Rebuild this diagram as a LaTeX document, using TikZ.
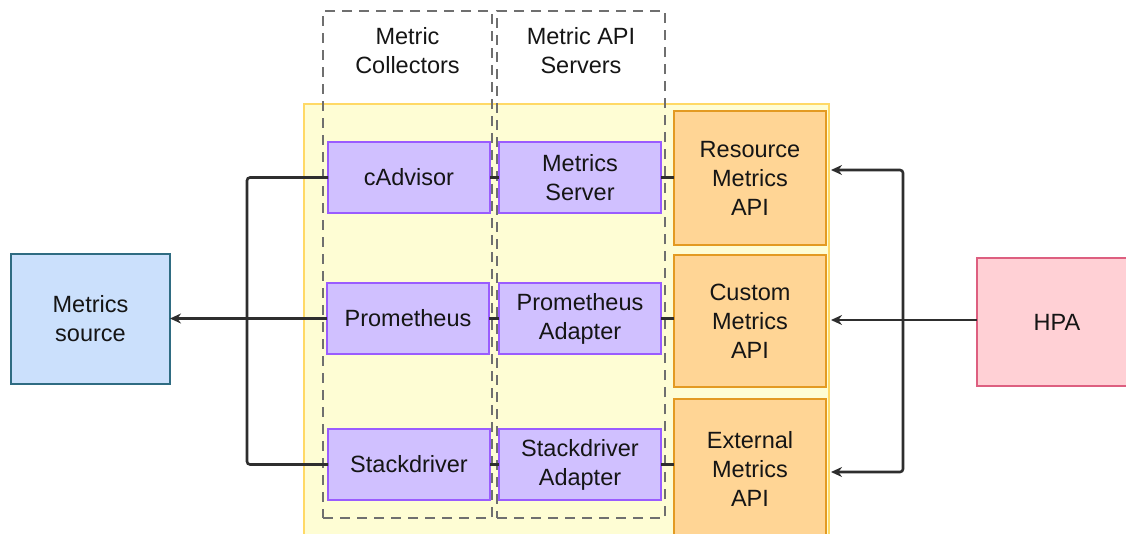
\documentclass[tikz,border=0pt]{standalone}
\usepackage{fontspec}
\setmainfont{Liberation Sans}
\usetikzlibrary{arrows.meta}
\definecolor{ylwfill}{HTML}{FEFDD4}
\definecolor{ylwdraw}{HTML}{FFD966}
\definecolor{purfill}{HTML}{D0C0FF}
\definecolor{purdraw}{HTML}{9A5CFF}
\definecolor{orgfill}{HTML}{FFD595}
\definecolor{orgdraw}{HTML}{E39A22}
\definecolor{pnkfill}{HTML}{FFD0D5}
\definecolor{pnkdraw}{HTML}{DD5F80}
\definecolor{blufill}{HTML}{CBE0FC}
\definecolor{bludraw}{HTML}{2F6C82}
\definecolor{dashgray}{HTML}{6F6F6F}
\definecolor{linegray}{HTML}{2E2E2E}
\definecolor{txt}{HTML}{151515}
\tikzset{
  box/.style={anchor=north west, inner sep=0pt, outer sep=0pt, align=center,
    font=\fontsize{23.5}{29}\selectfont, text=txt},
  purp/.style={box, fill=purfill, draw=purdraw, line width=2pt, minimum width=162pt, minimum height=71pt},
  orng/.style={box, fill=orgfill, draw=orgdraw, line width=2.5pt, minimum width=152pt},
  colbox/.style={anchor=north west, inner sep=0pt, outer sep=0pt, draw=dashgray, line width=2.5pt,
    dash pattern=on 10pt off 7pt, minimum height=507pt},
  conn/.style={draw=linegray, line width=2.6pt},
  tip/.style={-{Stealth[length=11pt,width=10pt]}},
  lbl/.style={inner sep=0pt, align=center, font=\fontsize{23.5}{29}\selectfont, text=txt}
}
\begin{document}
\begin{tikzpicture}[x=1pt,y=-1pt]
\useasboundingbox (0,0) rectangle (1126,533);
% container
\node[anchor=north west, inner sep=0pt, outer sep=0pt, fill=ylwfill, draw=ylwdraw, line width=2.5pt,
  minimum width=525pt, minimum height=440pt] (cont) at (304,104) {};
% purple boxes
\node[purp] (cad) at (328,142) {cAdvisor};
\node[purp] (msrv) at (499,142) {Metrics\\Server};
\node[purp] (prom) at (327,283) {Prometheus};
\node[purp] (pada) at (499,283) {Prometheus\\Adapter};
\node[purp] (sd) at (328,429) {Stackdriver};
\node[purp] (sada) at (499,429) {Stackdriver\\Adapter};
% dashed column boxes
\node[colbox, minimum width=169pt] (colc) at (323,11) {};
\node[colbox, minimum width=168pt] (cola) at (497,11) {};
\node[lbl] (colct) at (407.5,51) {Metric\\Collectors};
\node[lbl] (colat) at (581,51) {Metric API\\Servers};
% orange boxes
\node[orng, minimum height=134pt] (res) at (674,111) {Resource\\Metrics\\API};
\node[orng, minimum height=132pt] (cus) at (674,255) {Custom\\Metrics\\API};
\node[orng, minimum height=140pt] (ext) at (674,399) {External\\Metrics\\API};
% side boxes
\node[box, fill=blufill, draw=bludraw, line width=2.5pt, minimum width=159pt, minimum height=130pt] (src) at (11,254) {Metrics\\source};
\node[box, fill=pnkfill, draw=pnkdraw, line width=2.5pt, minimum width=200pt, minimum height=128pt, text width=160pt] (hpa) at (977,258) {HPA\hspace*{40pt}};
% short links
\draw[conn] (cad.east) -- (cad.east -| msrv.west);
\draw[conn] (msrv.east) -- (msrv.east -| res.west);
\draw[conn] (prom.east) -- (prom.east -| pada.west);
\draw[conn] (pada.east) -- (pada.east -| cus.west);
\draw[conn] (sd.east) -- (sd.east -| sada.west);
\draw[conn] (sada.east) -- (sada.east -| ext.west);
% left bus
\coordinate (lb) at (247,320);
\draw[conn, rounded corners=3pt] (cad.west) -| (lb) |- (sd.west);
\draw[conn, tip] (prom.west) -- (prom.west -| src.east);
% right bus
\coordinate (rb) at (903,320);
\coordinate (rt) at (831,170);
\coordinate (rm) at (831,320);
\coordinate (rl) at (831,472);
\draw[conn, {Stealth[length=11pt,width=10pt]}-{Stealth[length=11pt,width=10pt]}, rounded corners=3pt] (rt) -| (rb) |- (rl);
\draw[conn, tip] (hpa.west |- rm) -- (rm);
\end{tikzpicture}
\end{document}
